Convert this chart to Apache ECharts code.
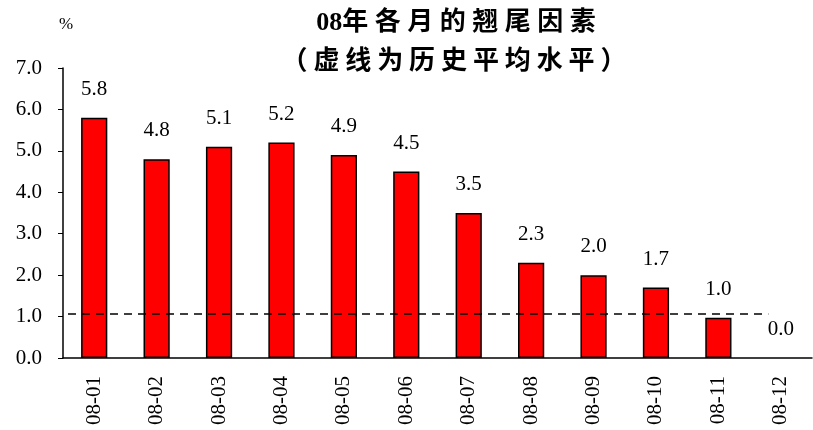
<!DOCTYPE html>
<html><head><meta charset="utf-8">
<script src="https://cdn.jsdelivr.net/npm/echarts@6/dist/echarts.min.js"></script>
<style>html,body{margin:0;padding:0;background:#fff}#c{width:813px;height:430px}</style>
</head><body><div id="c"></div>
<script>
const categories = ['08-01','08-02','08-03','08-04','08-05','08-06','08-07','08-08','08-09','08-10','08-11','08-12'];
const values = [5.8, 4.8, 5.1, 5.2, 4.9, 4.5, 3.5, 2.3, 2.0, 1.7, 0.97, 0.0];
const historicalAvg = 1.06;
const avgLineSpan = [0.08, 11.3]; // in category units on the hidden value axis
const yTicks = [0, 1, 2, 3, 4, 5, 6, 7];

const serif = '"Liberation Serif","Times New Roman",serif';
const chart = echarts.init(document.getElementById('c'));
chart.setOption({
  animation: false,
  title: [
    { text: '08年 各 月 的 翘 尾 因 素', left: 451, top: 5, textAlign: 'center',
      textStyle: { fontFamily: '"Liberation Serif","Noto Sans CJK SC",serif', fontWeight: 'bold', fontSize: 26, color: '#000' } },
    { text: '（ 虚 线 为 历 史 平 均 水 平 ）', left: 449, top: 41, textAlign: 'center',
      textStyle: { fontFamily: '"Noto Sans CJK SC",serif', fontWeight: 'bold', fontSize: 26, color: '#000' } },
    { text: '%', left: 54, top: 11, textStyle: { fontFamily: serif, fontWeight: 'normal', fontSize: 17, color: '#000' } }
  ],
  grid: { left: 63, right: 1, top: 68, bottom: 72 },
  xAxis: [{
    type: 'category', data: categories,
    axisLine: { lineStyle: { color: '#000', width: 1.5 } },
    axisTick: { inside: true, length: 6, lineStyle: { color: '#000' } },
    axisLabel: { rotate: 90, margin: 18, color: '#000', fontFamily: serif, fontSize: 21 }
  }, {
    type: 'value', min: 0, max: 12, show: false
  }],
  yAxis: {
    type: 'value', min: 0, max: 7, interval: 1,
    splitLine: { show: false },
    axisLine: { show: true, lineStyle: { color: '#000', width: 1.5 } },
    axisTick: { show: true, length: 5, lineStyle: { color: '#000' } },
    axisLabel: { margin: 21, color: '#000', fontFamily: serif, fontSize: 21,
      formatter: v => yTicks.includes(v) ? v.toFixed(1) : '' }
  },
  series: [{
    type: 'bar',
    data: values.map(v => v === 0 ? { value: v, itemStyle: { borderWidth: 0 } } : v),
    barWidth: '42%',
    itemStyle: { color: '#ff0000', borderColor: '#000', borderWidth: 1.5 },
    label: { show: true, position: 'top', distance: 18, color: '#000', fontFamily: serif, fontSize: 21,
      formatter: p => p.value.toFixed(1) }
  }, {
    type: 'line', xAxisIndex: 1, symbol: 'none',
    data: [[avgLineSpan[0], historicalAvg], [avgLineSpan[1], historicalAvg]],
    lineStyle: { color: '#000', type: [8, 6], width: 1.5 }
  }]
});
</script></body></html>
